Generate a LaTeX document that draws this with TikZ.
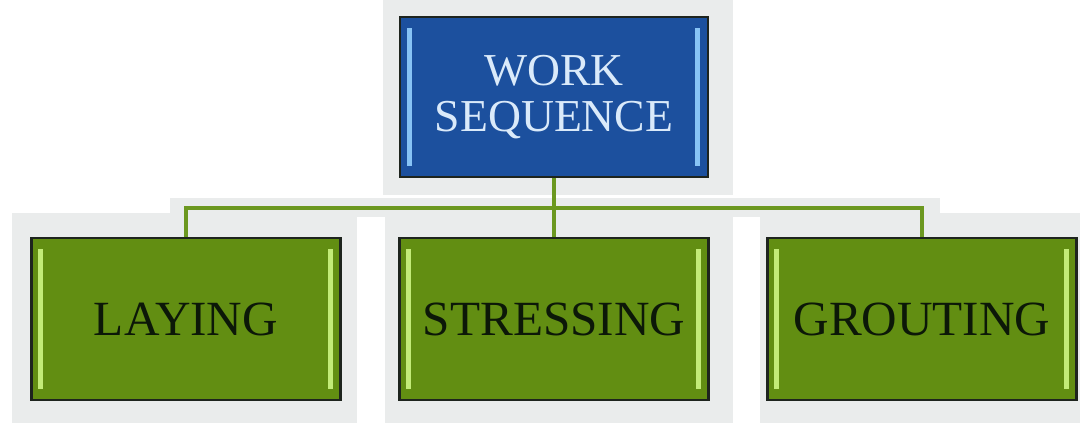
\documentclass[tikz,border=0pt]{standalone}
\usepackage{fontspec}
\setmainfont{Liberation Serif}
\definecolor{seqblue}{RGB}{28,80,158}
\definecolor{stepgreen}{RGB}{98,142,18}
\definecolor{edgedark}{RGB}{30,36,30}
\definecolor{glowblue}{RGB}{135,195,245}
\definecolor{glowgreen}{RGB}{195,235,120}
\definecolor{wiregreen}{RGB}{108,152,32}
\definecolor{halo}{RGB}{234,236,236}
\definecolor{paleblue}{RGB}{218,234,250}
\definecolor{darkink}{RGB}{12,24,8}
\tikzset{
  shine/.style={path picture={
      \draw[#1,line width=0.1cm]
        ([shift={(0.18cm,-0.22cm)}]path picture bounding box.north west)
        -- ([shift={(0.18cm,0.22cm)}]path picture bounding box.south west);
      \draw[#1,line width=0.1cm]
        ([shift={(-0.2cm,-0.22cm)}]path picture bounding box.north east)
        -- ([shift={(-0.2cm,0.22cm)}]path picture bounding box.south east);
  }},
  workbox/.style={draw=edgedark,line width=1.3pt,fill=seqblue,shine=glowblue,
    minimum width=6.16cm,minimum height=3.2cm,inner sep=0pt,align=center,
    text=paleblue,font=\fontsize{26}{26}\selectfont},
  stepbox/.style={draw=edgedark,line width=1.3pt,fill=stepgreen,shine=glowgreen,
    minimum width=6.18cm,minimum height=3.24cm,inner sep=0pt,
    text=darkink,font=\fontsize{28}{28}\selectfont},
  wire/.style={wiregreen,line width=0.08cm}
}
\begin{document}
\begin{tikzpicture}[x=0.02cm,y=0.02cm]
  \useasboundingbox (0,0) rectangle (1082,435);
  % soft grey backing behind boxes and bus
  \fill[halo] (383,240) rectangle (733,435);
  \fill[halo] (170,218) rectangle (940,237);
  \fill[halo] (12,12) rectangle (357,222);
  \fill[halo] (385,12) rectangle (733,222);
  \fill[halo] (760,12) rectangle (1080,222);
  % boxes
  \node[workbox] (work) at (554,338) {WORK\\SEQUENCE};
  \node[stepbox] (lay) at (186,116) {LAYING};
  \node[stepbox] (stress) at (554,116) {STRESSING};
  \node[stepbox] (grout) at (922,116) {GROUTING};
  % connectors
  \coordinate (bus) at (554,227);
  \draw[wire] (work.south) -- (bus);
  \draw[wire] (lay.north) |- (bus) -| (grout.north);
  \draw[wire] (bus) -- (stress.north);
\end{tikzpicture}
\end{document}
